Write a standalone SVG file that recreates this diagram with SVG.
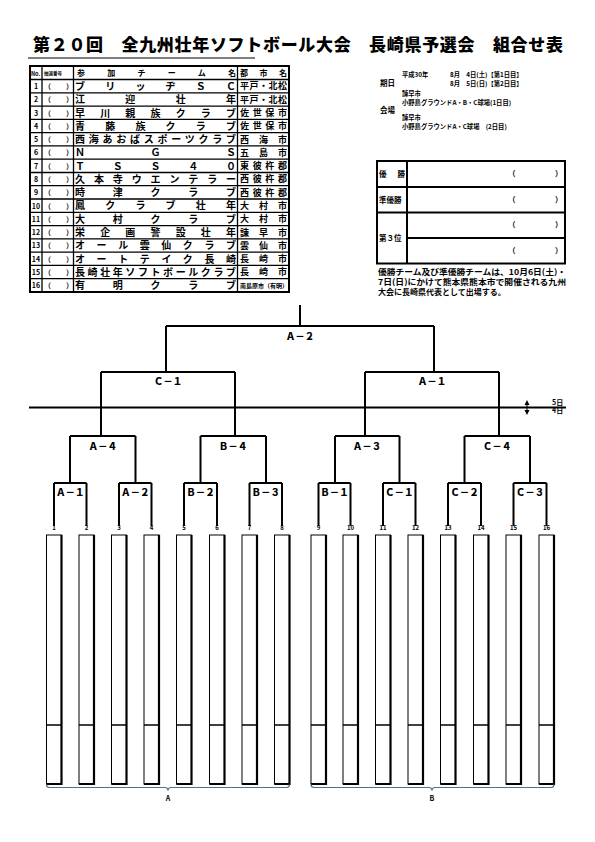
<svg xmlns="http://www.w3.org/2000/svg" width="595" height="842" viewBox="0 0 595 842">
<style>
text{font-family:"Noto Sans CJK JP","Noto Sans CJK SC",sans-serif;font-weight:bold;fill:#000}
.t{font-size:17px;font-weight:900}
.h{font-size:7px}
.nm{font-size:10px}
.ct{font-size:9px}
.no{font-size:7px}
.i{font-size:6.3px}
.rl{font-size:7.5px}
.nt{font-size:8px}
.bl{font-size:9.5px;font-weight:900}
.num{font-size:6px}
.ln{stroke:#000;stroke-width:1.3;fill:none}
.ob{stroke:#000;stroke-width:2;fill:none}
.br{stroke:#000;stroke-width:2;fill:none}
.bx{stroke:#000;stroke-width:1;fill:#fff}
.sh{stroke:#000;stroke-width:2.2;fill:none}
.brace{stroke:#51708a;stroke-width:1.2;fill:none}
</style>
<rect width="595" height="842" fill="#fff"/>
<g id="title">
<text class="t" x="33" y="51" textLength="530" lengthAdjust="spacing">第２０回　全九州壮年ソフトボール大会　長崎県予選会　組合せ表</text>
<line x1="28" y1="58" x2="255" y2="58" stroke="#000" stroke-width="1"/>
</g>
<g id="team-table">
<rect class="ob" x="30" y="66" width="259" height="226"/>
<path class="ln" d="M30,79.5H289M30,92.8H289M30,106.1H289M30,119.3H289M30,132.6H289M30,145.9H289M30,159.2H289M30,172.5H289M30,185.7H289M30,199H289M30,212.3H289M30,225.6H289M30,238.9H289M30,252.1H289M30,265.4H289M30,278.7H289"/>
<path class="ln" d="M42,66V292M73.5,66V292M237.5,66V292"/>
<text class="h" x="31" y="75.5" style="font-size:5.5px">No.</text>
<text class="h" x="44" y="75" style="font-size:4.5px">抽選番号</text>
<text class="h" x="77" y="76" textLength="159" lengthAdjust="spacing" style="font-size:8px">参加チーム名</text>
<text class="h" x="240" y="76" textLength="47" lengthAdjust="spacing" style="font-size:8px">都市名</text>
<g class="nos">
<text class="no" x="36" y="89" text-anchor="middle">1</text>
<text class="no" x="36" y="102.3" text-anchor="middle">2</text>
<text class="no" x="36" y="115.6" text-anchor="middle">3</text>
<text class="no" x="36" y="128.8" text-anchor="middle">4</text>
<text class="no" x="36" y="142.1" text-anchor="middle">5</text>
<text class="no" x="36" y="155.4" text-anchor="middle">6</text>
<text class="no" x="36" y="168.7" text-anchor="middle">7</text>
<text class="no" x="36" y="182" text-anchor="middle">8</text>
<text class="no" x="36" y="195.2" text-anchor="middle">9</text>
<text class="no" x="36" y="208.5" text-anchor="middle">10</text>
<text class="no" x="36" y="221.8" text-anchor="middle">11</text>
<text class="no" x="36" y="235.1" text-anchor="middle">12</text>
<text class="no" x="36" y="248.4" text-anchor="middle">13</text>
<text class="no" x="36" y="261.6" text-anchor="middle">14</text>
<text class="no" x="36" y="274.9" text-anchor="middle">15</text>
<text class="no" x="36" y="288.2" text-anchor="middle">16</text>
</g>
<g class="paren">
<text class="no" x="44" y="89">（</text><text class="no" x="66" y="89">）</text>
<text class="no" x="44" y="102.3">（</text><text class="no" x="66" y="102.3">）</text>
<text class="no" x="44" y="115.6">（</text><text class="no" x="66" y="115.6">）</text>
<text class="no" x="44" y="128.8">（</text><text class="no" x="66" y="128.8">）</text>
<text class="no" x="44" y="142.1">（</text><text class="no" x="66" y="142.1">）</text>
<text class="no" x="44" y="155.4">（</text><text class="no" x="66" y="155.4">）</text>
<text class="no" x="44" y="168.7">（</text><text class="no" x="66" y="168.7">）</text>
<text class="no" x="44" y="182">（</text><text class="no" x="66" y="182">）</text>
<text class="no" x="44" y="195.2">（</text><text class="no" x="66" y="195.2">）</text>
<text class="no" x="44" y="208.5">（</text><text class="no" x="66" y="208.5">）</text>
<text class="no" x="44" y="221.8">（</text><text class="no" x="66" y="221.8">）</text>
<text class="no" x="44" y="235.1">（</text><text class="no" x="66" y="235.1">）</text>
<text class="no" x="44" y="248.4">（</text><text class="no" x="66" y="248.4">）</text>
<text class="no" x="44" y="261.6">（</text><text class="no" x="66" y="261.6">）</text>
<text class="no" x="44" y="274.9">（</text><text class="no" x="66" y="274.9">）</text>
<text class="no" x="44" y="288.2">（</text><text class="no" x="66" y="288.2">）</text>
</g>
<g class="teams">
<text class="nm" x="75" y="89.9" textLength="161" lengthAdjust="spacing">ブリッヂＳＣ</text>
<text class="nm" x="75" y="103.2" textLength="161" lengthAdjust="spacing">江迎壮年</text>
<text class="nm" x="75" y="116.5" textLength="161" lengthAdjust="spacing">早川親族クラブ</text>
<text class="nm" x="75" y="129.7" textLength="161" lengthAdjust="spacing">青藤族クラブ</text>
<text class="nm" x="75" y="143" textLength="161" lengthAdjust="spacing">西海あおばスポーツクラブ</text>
<text class="nm" x="75" y="156.3" textLength="161" lengthAdjust="spacing">ＮＧＳ</text>
<text class="nm" x="75" y="169.6" textLength="161" lengthAdjust="spacing">ＴＳＳ４０</text>
<text class="nm" x="75" y="182.9" textLength="161" lengthAdjust="spacing">久本寺ウエンテラー</text>
<text class="nm" x="75" y="196.1" textLength="161" lengthAdjust="spacing">時津クラブ</text>
<text class="nm" x="75" y="209.4" textLength="161" lengthAdjust="spacing">鳳クラブ壮年</text>
<text class="nm" x="75" y="222.7" textLength="161" lengthAdjust="spacing">大村クラブ</text>
<text class="nm" x="75" y="236" textLength="161" lengthAdjust="spacing">栄企画警設壮年</text>
<text class="nm" x="75" y="249.3" textLength="161" lengthAdjust="spacing">オール雲仙クラブ</text>
<text class="nm" x="75" y="262.5" textLength="161" lengthAdjust="spacing">オートテイク長崎</text>
<text class="nm" x="75" y="275.8" textLength="161" lengthAdjust="spacing">長崎壮年ソフトボールクラブ</text>
<text class="nm" x="75" y="289.1" textLength="161" lengthAdjust="spacing">有明クラブ</text>
</g>
<g class="cities">
<text class="ct" x="240" y="89.4" textLength="47" lengthAdjust="spacing">平戸・北松</text>
<text class="ct" x="240" y="102.7" textLength="47" lengthAdjust="spacing">平戸・北松</text>
<text class="ct" x="240" y="116" textLength="47" lengthAdjust="spacing">佐世保市</text>
<text class="ct" x="240" y="129.2" textLength="47" lengthAdjust="spacing">佐世保市</text>
<text class="ct" x="240" y="142.5" textLength="47" lengthAdjust="spacing">西海市</text>
<text class="ct" x="240" y="155.8" textLength="47" lengthAdjust="spacing">五島市</text>
<text class="ct" x="240" y="169.1" textLength="47" lengthAdjust="spacing">東彼杵郡</text>
<text class="ct" x="240" y="182.4" textLength="47" lengthAdjust="spacing">西彼杵郡</text>
<text class="ct" x="240" y="195.6" textLength="47" lengthAdjust="spacing">西彼杵郡</text>
<text class="ct" x="240" y="208.9" textLength="47" lengthAdjust="spacing">大村市</text>
<text class="ct" x="240" y="222.2" textLength="47" lengthAdjust="spacing">大村市</text>
<text class="ct" x="240" y="235.5" textLength="47" lengthAdjust="spacing">諫早市</text>
<text class="ct" x="240" y="248.8" textLength="47" lengthAdjust="spacing">雲仙市</text>
<text class="ct" x="240" y="262" textLength="47" lengthAdjust="spacing">長崎市</text>
<text class="ct" x="240" y="275.3" textLength="47" lengthAdjust="spacing">長崎市</text>
<text class="ct" x="240" y="288.4" style="font-size:6px">南島原市（有明）</text>
</g>
</g>
<g id="info">
<text class="rl" x="380" y="86">期日</text>
<text class="i" x="402" y="76.5">平成30年</text>
<text class="i" x="450" y="76.5">8月　4日(土)【第1日目】</text>
<text class="i" x="450" y="85.5">8月　5日(日)【第2日目】</text>
<text class="i" x="402" y="96">諫早市</text>
<text class="i" x="402" y="104.5">小野島グラウンドA・B・C球場(1日目)</text>
<text class="rl" x="380" y="112.5">会場</text>
<text class="i" x="402" y="120">諫早市</text>
<text class="i" x="402" y="128.5">小野島グラウンドA・C球場　(2日目)</text>
</g>
<g id="results">
<rect class="ob" x="377" y="161" width="188" height="102.5"/>
<path class="ob" d="M407,161V263.5M377,187H565M377,212.5H565M407,238H565"/>
<text class="rl" x="379" y="177" textLength="26" lengthAdjust="spacing">優勝</text>
<text class="rl" x="379" y="202.5">準優勝</text>
<text class="rl" x="379" y="240.5">第３位</text>
<text class="rl" x="508" y="177">（</text><text class="rl" x="555" y="177">）</text>
<text class="rl" x="508" y="202.5">（</text><text class="rl" x="555" y="202.5">）</text>
<text class="rl" x="508" y="228">（</text><text class="rl" x="555" y="228">）</text>
<text class="rl" x="508" y="253.5">（</text><text class="rl" x="555" y="253.5">）</text>
</g>
<g id="note">
<text class="nt" x="378" y="275" textLength="188" lengthAdjust="spacingAndGlyphs">優勝チーム及び準優勝チームは、10月6日(土)・</text>
<text class="nt" x="378" y="285" textLength="188" lengthAdjust="spacingAndGlyphs">7日(日)にかけて熊本県熊本市で開催される九州</text>
<text class="nt" x="378" y="295">大会に長崎県代表として出場する。</text>
</g>
<g id="connectors">
<path class="br" d="M300,305V326M166,326H434M166,326V372M434,326V372M101,372H235M365,372H499M101,372V436M235,372V436M365,372V436M499,372V436"/>
<path class="br" d="M70,436H135.5M200.5,436H266M335,436H399.5M464.5,436H530M70,436V483M135.5,436V483M200.5,436V483M266,436V483M335,436V483M399.5,436V483M464.5,436V483M530,436V483"/>
<path class="br" d="M54,483H86.5M119,483H151.5M184,483H217M249.5,483H282M318.5,483H350.5M383,483H415.5M448,483H481M513.5,483H546.5"/>
<path class="br" d="M54,483V526M86.5,483V526M119,483V526M151.5,483V526M184,483V526M217,483V526M249.5,483V526M282,483V526M318.5,483V526M350.5,483V526M383,483V526M415.5,483V526M448,483V526M481,483V526M513.5,483V526M546.5,483V526"/>
<line x1="29" y1="407.5" x2="566" y2="407.5" stroke="#000" stroke-width="2"/>
<path d="M527,400l-2.5,5h5z M527,415l-2.5,-5h5z" fill="#000"/>
<path d="M527,404V411" stroke="#000" stroke-width="1"/>
</g>
<g id="day-labels">
<text class="num" x="552" y="405" style="font-size:7px">5日</text>
<text class="num" x="552" y="413" style="font-size:7px">4日</text>
</g>
<g id="match-labels">
<text class="bl" x="300" y="340" text-anchor="middle">Ａ－２</text>
<text class="bl" x="168" y="385" text-anchor="middle">Ｃ－１</text>
<text class="bl" x="432" y="385" text-anchor="middle">Ａ－１</text>
<text class="bl" x="102.7" y="450" text-anchor="middle">Ａ－４</text>
<text class="bl" x="233" y="450" text-anchor="middle">Ｂ－４</text>
<text class="bl" x="367" y="450" text-anchor="middle">Ａ－３</text>
<text class="bl" x="497" y="450" text-anchor="middle">Ｃ－４</text>
<text class="bl" x="70.2" y="496" text-anchor="middle">Ａ－１</text>
<text class="bl" x="135.2" y="496" text-anchor="middle">Ａ－２</text>
<text class="bl" x="200.5" y="496" text-anchor="middle">Ｂ－２</text>
<text class="bl" x="265.7" y="496" text-anchor="middle">Ｂ－３</text>
<text class="bl" x="334.5" y="496" text-anchor="middle">Ｂ－１</text>
<text class="bl" x="399.2" y="496" text-anchor="middle">Ｃ－１</text>
<text class="bl" x="464.5" y="496" text-anchor="middle">Ｃ－２</text>
<text class="bl" x="530" y="496" text-anchor="middle">Ｃ－３</text>
</g>
<g id="slots">
<g class="numbers">
<text class="num" x="54" y="530" text-anchor="middle">1</text>
<text class="num" x="86.5" y="530" text-anchor="middle">2</text>
<text class="num" x="119" y="530" text-anchor="middle">3</text>
<text class="num" x="151.5" y="530" text-anchor="middle">4</text>
<text class="num" x="184" y="530" text-anchor="middle">5</text>
<text class="num" x="217" y="530" text-anchor="middle">6</text>
<text class="num" x="249.5" y="530" text-anchor="middle">7</text>
<text class="num" x="282" y="530" text-anchor="middle">8</text>
<text class="num" x="318.5" y="530" text-anchor="middle">9</text>
<text class="num" x="350.5" y="530" text-anchor="middle">10</text>
<text class="num" x="383" y="530" text-anchor="middle">11</text>
<text class="num" x="415.5" y="530" text-anchor="middle">12</text>
<text class="num" x="448" y="530" text-anchor="middle">13</text>
<text class="num" x="481" y="530" text-anchor="middle">14</text>
<text class="num" x="513.5" y="530" text-anchor="middle">15</text>
<text class="num" x="546.5" y="530" text-anchor="middle">16</text>
</g>
<g class="boxes">
<rect class="bx" x="46.5" y="535" width="15" height="249"/>
<rect class="bx" x="79" y="535" width="15" height="249"/>
<rect class="bx" x="111.5" y="535" width="15" height="249"/>
<rect class="bx" x="144" y="535" width="15" height="249"/>
<rect class="bx" x="176.5" y="535" width="15" height="249"/>
<rect class="bx" x="209.5" y="535" width="15" height="249"/>
<rect class="bx" x="242" y="535" width="15" height="249"/>
<rect class="bx" x="274.5" y="535" width="15" height="249"/>
<rect class="bx" x="311" y="535" width="15" height="249"/>
<rect class="bx" x="343" y="535" width="15" height="249"/>
<rect class="bx" x="375.5" y="535" width="15" height="249"/>
<rect class="bx" x="408" y="535" width="15" height="249"/>
<rect class="bx" x="440.5" y="535" width="15" height="249"/>
<rect class="bx" x="473.5" y="535" width="15" height="249"/>
<rect class="bx" x="506" y="535" width="15" height="249"/>
<rect class="bx" x="539" y="535" width="15" height="249"/>
</g>
<path class="sh" d="M61.5,535V784H46.5M94,535V784H79M126.5,535V784H111.5M159,535V784H144M191.5,535V784H176.5M224.5,535V784H209.5M257,535V784H242M289.5,535V784H274.5M326,535V784H311M358,535V784H343M390.5,535V784H375.5M423,535V784H408M455.5,535V784H440.5M488.5,535V784H473.5M521,535V784H506M554,535V784H539"/>
<path class="ln" d="M46.5,725H61.5M79,725H94M111.5,725H126.5M144,725H159M176.5,725H191.5M209.5,725H224.5M242,725H257M274.5,725H289.5M311,725H326M343,725H358M375.5,725H390.5M408,725H423M440.5,725H455.5M473.5,725H488.5M506,725H521M539,725H554"/>
</g>
<g id="groups">
<path class="brace" d="M46.5,784.5q0,3 3,3H165q3,0 3,3q0,-3 3,-3H286.5q3,0 3,-3"/>
<path class="brace" d="M311,784.5q0,3 3,3H429q3,0 3,3q0,-3 3,-3H551q3,0 3,-3"/>
<text class="num" x="168" y="801" text-anchor="middle" style="font-size:7px">A</text>
<text class="num" x="432" y="801" text-anchor="middle" style="font-size:7px">B</text>
</g>
</svg>
